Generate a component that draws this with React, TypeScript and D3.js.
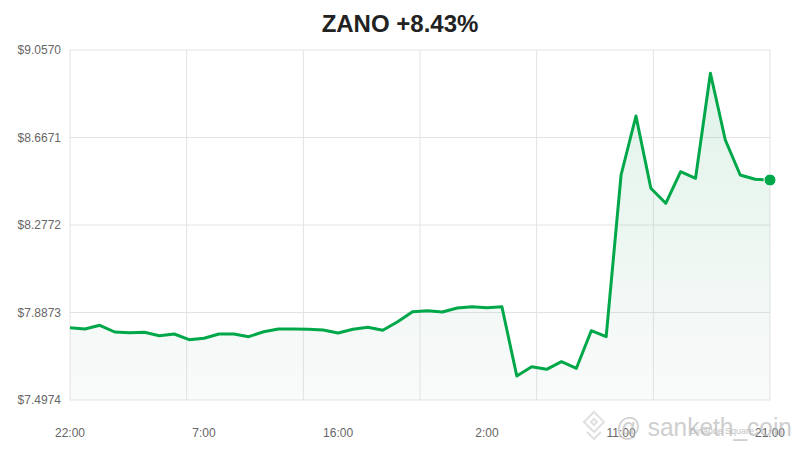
import React from "react";
import * as d3 from "d3";

const title = "ZANO +8.43%";
const prices = [
  7.8196, 7.8138, 7.8303, 7.8004, 7.7973, 7.7991, 7.7839, 7.7915, 7.7661, 7.7723,
  7.7915, 7.7915, 7.7795, 7.8017, 7.8138, 7.8138, 7.8124, 7.8093, 7.796, 7.8124,
  7.8214, 7.808, 7.8463, 7.8909, 7.8953, 7.8895, 7.9074, 7.9131, 7.9087, 7.9131,
  7.6043, 7.6458, 7.6342, 7.6681, 7.6387, 7.8062, 7.7795, 8.5, 8.7629, 8.4407,
  8.3739, 8.5147, 8.4853, 8.9532, 8.656, 8.5, 8.4808, 8.4777,
];
const hours = prices.map((_, i) => i); // hourly points starting at 22:00
const xTickHours = [0, 9, 18, 28, 37, 47];
const xTickLabels = ["22:00", "7:00", "16:00", "2:00", "11:00", "21:00"];
const yTicks = [7.4974, 7.8873, 8.2772, 8.6671, 9.057];
const yDomain = [7.4974, 9.057];

const W = 800;
const H = 450;
const m = { left: 70, right: 30, top: 50, bottom: 50 };

export default function App() {
  const x = d3.scaleLinear().domain([0, 47]).range([m.left, W - m.right]);
  const y = d3.scaleLinear().domain(yDomain).range([H - m.bottom, m.top]);
  const data = hours.map((h, i) => ({ h, v: prices[i] }));
  const line = d3.line<any>().x((d) => x(d.h)).y((d) => y(d.v));
  const area = d3
    .area<any>()
    .x((d) => x(d.h))
    .y0(y(yDomain[0]))
    .y1((d) => y(d.v));
  const gridX = d3.range(7).map((i) => (i * 47) / 6);
  const last = data[data.length - 1];
  const font = "'Liberation Sans', Arial, Helvetica, sans-serif";

  return (
    <svg
      width={W}
      height={H}
      style={{ position: "absolute", left: 0, top: 0, background: "#fff" }}
      fontFamily={font}
    >
      <defs>
        <linearGradient id="fillg" gradientUnits="userSpaceOnUse" x1="0" y1={m.top} x2="0" y2={H - m.bottom}>
          <stop offset="0" stopColor="rgb(0,160,75)" stopOpacity={0.13} />
          <stop offset="1" stopColor="rgb(210,215,215)" stopOpacity={0.12} />
        </linearGradient>
      </defs>
      <rect x={0} y={0} width={W} height={H} fill="#fff" />
      {yTicks.map((t) => (
        <line key={"gy" + t} x1={m.left} x2={W - m.right} y1={y(t)} y2={y(t)} stroke="#e3e3e3" strokeWidth={1} />
      ))}
      {gridX.map((g) => (
        <line key={"gx" + g} x1={x(g)} x2={x(g)} y1={m.top} y2={H - m.bottom} stroke="#e3e3e3" strokeWidth={1} />
      ))}
      <path d={area(data) || ""} fill="url(#fillg)" />
      <path d={line(data) || ""} fill="none" stroke="#00a84a" strokeWidth={3} strokeLinejoin="round" />
      <circle cx={x(last.h)} cy={y(last.v)} r={6} fill="#00a84a" stroke="#fff" strokeWidth={1} />
      {yTicks.map((t) => (
        <text key={"yl" + t} x={61} y={y(t)} dy="0.35em" textAnchor="end" fontSize={12} fill="#666">
          {"$" + t.toFixed(4)}
        </text>
      ))}
      {xTickHours.map((h, i) => (
        <text key={"xl" + h} x={x(h)} y={433} dy="0.35em" textAnchor="middle" fontSize={12} fill="#666">
          {xTickLabels[i]}
        </text>
      ))}
      <text x={400} y={32} textAnchor="middle" fontSize={24} fontWeight="bold" fill="#222">
        {title}
      </text>
      {/* watermark */}
      <g opacity={0.35} fill="none" stroke="#aaa" strokeWidth={2}>
        <path d="M594,412 L604,422 L594,432 L584,422 Z" />
        <path d="M594,419 L597,422 L594,425 L591,422 Z" />
        <path d="M587,432 L594,439 L601,432" />
      </g>
      <text x={616} y={436} fontSize={26} fill="#bbb" opacity={0.7} textLength={176} lengthAdjust="spacingAndGlyphs">
        @ sanketh_coin
      </text>
      <text x={690} y={434} fontSize={9} fill="#aaa" opacity={0.7}>
        Binance Square
      </text>
    </svg>
  );
}
